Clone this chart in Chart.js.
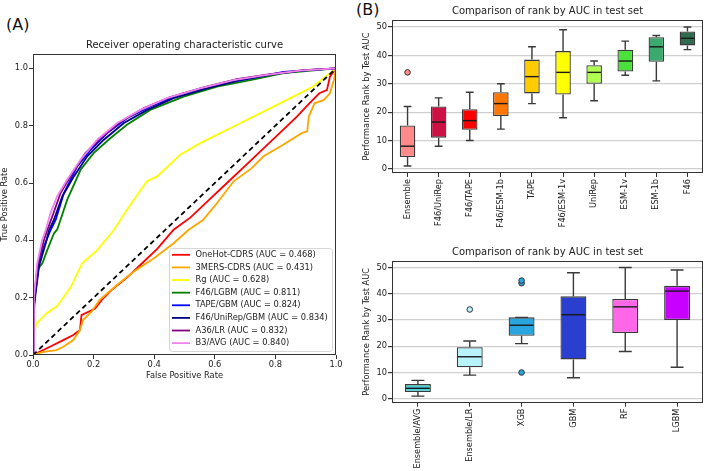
<!DOCTYPE html>
<html>
<head>
<meta charset="utf-8">
<script src="https://cdn.jsdelivr.net/npm/chart.js@4.4.1/dist/chart.umd.min.js"></script>
<style>
  body { margin: 0; background: #fff; width: 708px; height: 471px; position: relative; overflow: hidden; font-family: "DejaVu Sans", sans-serif; }
  canvas { position: absolute; }
  .tag { position: absolute; font-size: 16px; color: #111; line-height: 19px; }
</style>
</head>
<body>
<div class="tag" style="left:6px;top:15px">(A)</div>
<div class="tag" style="left:356px;top:0px">(B)</div>
<canvas id="rocChart" width="350" height="390" style="left:0;top:0"></canvas>
<canvas id="rankChart" width="354" height="240" style="left:354px;top:0"></canvas>
<canvas id="algoChart" width="354" height="231" style="left:354px;top:240px"></canvas>
<script>
/* ==============================
   DATA
============================== */
// ROC curves (panel A)
const rocNames = ['OneHot-CDRS', '3MERS-CDRS', 'Rg', 'F46/LGBM', 'TAPE/GBM', 'F46/UniRep/GBM', 'A36/LR', 'B3/AVG'];
const rocAuc = [0.468, 0.431, 0.628, 0.811, 0.824, 0.834, 0.832, 0.840];
const rocColors = ['#ff0000', '#ffa500', '#ffff00', '#008000', '#0000ff', '#000080', '#800080', '#ee82ee'];

const fprOneHot = [0, 0.056, 0.1, 0.133, 0.155, 0.16, 0.183, 0.205, 0.227, 0.26, 0.31, 0.36, 0.41, 0.464, 0.52, 0.58, 0.64, 0.7, 0.76, 0.82, 0.87, 0.912, 0.945, 0.97, 0.98, 1];
const tprOneHot = [0, 0.029, 0.052, 0.07, 0.087, 0.139, 0.151, 0.162, 0.192, 0.227, 0.27, 0.32, 0.37, 0.437, 0.48, 0.54, 0.6, 0.66, 0.72, 0.78, 0.831, 0.878, 0.913, 0.924, 0.971, 1];
const fpr3mers = [0, 0.034, 0.078, 0.1, 0.133, 0.155, 0.165, 0.193, 0.22, 0.278, 0.333, 0.398, 0.464, 0.514, 0.56, 0.6, 0.662, 0.72, 0.761, 0.82, 0.887, 0.905, 0.91, 0.929, 0.96, 0.98, 0.993, 1];
const tpr3mers = [0, 0.011, 0.017, 0.029, 0.052, 0.087, 0.122, 0.151, 0.192, 0.245, 0.291, 0.337, 0.39, 0.437, 0.47, 0.52, 0.606, 0.65, 0.693, 0.73, 0.774, 0.78, 0.831, 0.878, 0.89, 0.913, 0.958, 1];
const fprRg = [0, 0, 0.012, 0.045, 0.078, 0.094, 0.124, 0.162, 0.212, 0.267, 0.31, 0.376, 0.41, 0.486, 0.552, 0.662, 0.772, 0.849, 0.923, 0.979, 1];
const tprRg = [0, 0.06, 0.11, 0.146, 0.169, 0.192, 0.235, 0.32, 0.366, 0.436, 0.507, 0.606, 0.623, 0.699, 0.739, 0.797, 0.855, 0.896, 0.936, 0.982, 1];
const fprLgbm = [0, 0.003, 0.008, 0.014, 0.031, 0.047, 0.069, 0.08, 0.113, 0.157, 0.2, 0.256, 0.31, 0.387, 0.497, 0.607, 0.717, 0.827, 0.936, 1];
const tprLgbm = [0, 0.146, 0.23, 0.297, 0.32, 0.366, 0.424, 0.438, 0.542, 0.646, 0.704, 0.757, 0.803, 0.855, 0.901, 0.936, 0.959, 0.983, 0.994, 1];
const fprTape = [0, 0.003, 0.02, 0.036, 0.058, 0.075, 0.102, 0.146, 0.19, 0.245, 0.31, 0.387, 0.497, 0.607, 0.717, 0.827, 1];
const tprTape = [0, 0.18, 0.32, 0.378, 0.436, 0.472, 0.565, 0.658, 0.716, 0.774, 0.826, 0.867, 0.913, 0.942, 0.965, 0.988, 1];
const fprUniRep = [0, 0.003, 0.02, 0.042, 0.053, 0.069, 0.097, 0.135, 0.179, 0.234, 0.3, 0.377, 0.464, 0.574, 0.684, 0.794, 0.903, 1];
const tprUniRep = [0, 0.17, 0.31, 0.39, 0.436, 0.472, 0.554, 0.623, 0.693, 0.751, 0.809, 0.855, 0.896, 0.93, 0.959, 0.98, 0.994, 1];
const fprA36 = [0, 0.003, 0.016, 0.036, 0.047, 0.064, 0.091, 0.13, 0.173, 0.223, 0.289, 0.366, 0.453, 0.563, 0.673, 0.783, 0.892, 1];
const tprA36 = [0, 0.19, 0.32, 0.4, 0.436, 0.484, 0.565, 0.635, 0.704, 0.757, 0.814, 0.861, 0.9, 0.934, 0.962, 0.98, 0.994, 1];
const fprB3 = [0, 0.003, 0.014, 0.03, 0.042, 0.058, 0.08, 0.113, 0.157, 0.212, 0.278, 0.355, 0.442, 0.552, 0.662, 0.772, 0.881, 1];
const tprB3 = [0, 0.2, 0.32, 0.4, 0.436, 0.496, 0.554, 0.612, 0.681, 0.751, 0.809, 0.855, 0.896, 0.93, 0.959, 0.977, 0.992, 1];
const rocFpr = [fprOneHot, fpr3mers, fprRg, fprLgbm, fprTape, fprUniRep, fprA36, fprB3];
const rocTpr = [tprOneHot, tpr3mers, tprRg, tprLgbm, tprTape, tprUniRep, tprA36, tprB3];
const rateTicks = [0, 0.2, 0.4, 0.6, 0.8, 1.0];

// rank by embedding (panel B, top)
const rankLabels = ['Ensemble', 'F46/UniRep', 'F46/TAPE', 'F46/ESM-1b', 'TAPE', 'F46/ESM-1v', 'UniRep', 'ESM-1v', 'ESM-1b', 'F46'];
const rankMin = [1, 8, 10, 14, 23, 18, 24, 33, 31, 42];
const rankQ1 = [4.2, 11, 13.8, 18.6, 26.6, 26.2, 30, 34.3, 37.7, 43.5];
const rankMed = [8, 16.5, 17, 23, 32.5, 34, 34, 38, 43, 46];
const rankQ3 = [15.3, 22, 21, 27, 38.5, 41.5, 36.5, 42, 46.4, 48.4];
const rankMax = [22, 25, 27, 30, 43, 49, 38, 45, 47, 50];
const rankOutliers = [[34], [], [], [], [], [], [], [], [], []];
const rankColors = ['#ff8a8a', '#cc1144', '#ff0000', '#ff7700', '#ffcc00', '#ffff00', '#b0ff50', '#4ce03c', '#3caa6e', '#2e6b4f'];

// rank by algorithm (panel B, bottom)
const algoLabels = ['Ensemble/AVG', 'Ensemble/LR', 'XGB', 'GBM', 'RF', 'LGBM'];
const algoMin = [1, 9, 21, 8, 18, 12];
const algoQ1 = [2.6, 12, 24, 15, 25, 30];
const algoMed = [4, 16, 28, 32, 35, 41];
const algoQ3 = [5.6, 19.6, 31, 39, 38, 43];
const algoMax = [7, 22, 31, 48, 50, 49];
const algoOutliers = [[], [34], [10, 44, 45], [], [], []];
const algoColors = ['#48cfd8', '#b8f2fb', '#29a6e0', '#2a3ed0', '#ff66e8', '#c800ff'];
const rankTicks = [0, 10, 20, 30, 40, 50];

/* ==============================
   SHARED BITS
============================== */
Chart.defaults.font.family = "'DejaVu Sans', sans-serif";
Chart.defaults.color = '#222';

const framePlugin = {
    id: 'frame',
    afterDraw(chart) {
        const { ctx, chartArea: a } = chart;
        const l = Math.round(a.left) + 0.5, t = Math.round(a.top) + 0.5;
        const r = Math.round(a.right) - 0.5, b = Math.round(a.bottom) - 0.5;
        ctx.save();
        ctx.strokeStyle = '#333';
        ctx.lineWidth = 1;
        ctx.strokeRect(l, t, r - l, b - t);
        ctx.restore();
    }
};

/* ==============================
   ROC CURVE
============================== */
const rocLegend = {
    id: 'rocLegend',
    afterDatasetsDraw(chart) {
        const { ctx, chartArea: a } = chart;
        const w = 163, h = 103;
        const x = a.right - 4 - w, y = a.bottom - 4 - h;
        ctx.save();
        ctx.beginPath();
        ctx.roundRect(x + 0.5, y + 0.5, w, h, 3);
        ctx.fillStyle = 'rgba(255,255,255,0.85)';
        ctx.fill();
        ctx.strokeStyle = '#d6d6d6';
        ctx.lineWidth = 1;
        ctx.stroke();
        ctx.font = "8.3px 'DejaVu Sans'";
        ctx.textBaseline = 'middle';
        rocNames.forEach((name, i) => {
            const cy = y + 6.8 + i * 12.62;
            ctx.beginPath();
            ctx.moveTo(x + 3, cy);
            ctx.lineTo(x + 21, cy);
            ctx.strokeStyle = rocColors[i];
            ctx.lineWidth = 1.8;
            ctx.stroke();
            ctx.fillStyle = '#222';
            ctx.fillText(`${name} (AUC = ${rocAuc[i].toFixed(3)})`, x + 26.5, cy);
        });
        ctx.restore();
    }
};

function renderRocChart() {
    const datasets = rocNames.map((name, i) => ({
        label: name,
        data: rocFpr[i].map((f, j) => ({ x: f, y: rocTpr[i][j] })),
        showLine: true,
        borderColor: rocColors[i],
        borderWidth: 1.8,
        pointRadius: 0,
        order: rocNames.length - i
    }));
    datasets.push({
        label: 'chance',
        data: [{ x: 0, y: 0 }, { x: 1, y: 1 }],
        showLine: true,
        borderColor: '#000',
        borderWidth: 1.8,
        borderDash: [5, 3.5],
        pointRadius: 0,
        order: 0
    });

    const axisCommon = {
        type: 'linear',
        afterBuildTicks: s => { s.ticks = rateTicks.map(v => ({ value: v })); },
        ticks: { callback: v => v.toFixed(1), padding: 1, font: { size: 8.3 }, color: '#222' },
        grid: { drawOnChartArea: false, tickLength: 4, tickColor: '#333' },
        border: { display: false }
    };

    new Chart(document.getElementById('rocChart'), {
        type: 'scatter',
        data: { datasets },
        options: {
            responsive: false,
            animation: false,
            layout: { padding: { top: 39, right: 14, bottom: 9, left: 0 } },
            plugins: {
                legend: { display: false },
                tooltip: { enabled: false },
                title: {
                    display: true,
                    fullSize: false,
                    text: 'Receiver operating characteristic curve',
                    font: { size: 10, weight: 'normal' },
                    color: '#222',
                    padding: { top: 0, bottom: 3 }
                }
            },
            scales: {
                x: {
                    ...axisCommon, min: 0, max: 1,
                    title: { display: true, text: 'False Positive Rate', font: { size: 8.3 }, padding: 0 },
                    afterFit: s => { s.height = 26; }
                },
                y: {
                    ...axisCommon, min: 0, max: 1.05,
                    title: { display: true, text: 'True Positive Rate', font: { size: 8.3 }, padding: 0 },
                    afterFit: s => { s.width = 33; }
                }
            }
        },
        plugins: [rocLegend, framePlugin]
    });
}

/* ==============================
   BOX PLOTS
============================== */
const boxPlugin = {
    id: 'boxStats',
    afterDatasetsDraw(chart, args, opts) {
        const { ctx } = chart;
        const xs = chart.scales.x, ys = chart.scales.y;
        const bars = chart.getDatasetMeta(0).data;
        ctx.save();
        ctx.lineWidth = 1.4;
        opts.med.forEach((m, i) => {
            const cx = xs.getPixelForValue(i);
            const half = bars[i].width / 2;
            const cap = half / 2;
            const pLo = ys.getPixelForValue(opts.lo[i]), pQ1 = ys.getPixelForValue(opts.q1[i]);
            const pQ3 = ys.getPixelForValue(opts.q3[i]), pHi = ys.getPixelForValue(opts.hi[i]);
            // whiskers + caps
            ctx.strokeStyle = '#3a3a3a';
            ctx.beginPath();
            ctx.moveTo(cx, pQ1); ctx.lineTo(cx, pLo);
            ctx.moveTo(cx - cap, pLo); ctx.lineTo(cx + cap, pLo);
            ctx.moveTo(cx, pQ3); ctx.lineTo(cx, pHi);
            ctx.moveTo(cx - cap, pHi); ctx.lineTo(cx + cap, pHi);
            ctx.stroke();
            // median
            const pm = ys.getPixelForValue(m);
            ctx.strokeStyle = '#1a1a1a';
            ctx.beginPath();
            ctx.moveTo(cx - half + 1, pm); ctx.lineTo(cx + half - 1, pm);
            ctx.stroke();
        });
        ctx.restore();
    }
};

function renderBoxChart(id, labels, lo, q1, med, q3, hi, outliers, colors, layoutTop, xHeight) {
    const outPts = [], outCols = [];
    outliers.forEach((vals, i) => vals.forEach(v => { outPts.push({ x: labels[i], y: v }); outCols.push(colors[i]); }));

    new Chart(document.getElementById(id), {
        type: 'bar',
        data: {
            labels: labels,
            datasets: [{
                type: 'bar',
                data: labels.map((_, i) => [q1[i], q3[i]]),
                backgroundColor: colors,
                borderColor: '#3a3a3a',
                borderWidth: 1.3,
                borderSkipped: false,
                barPercentage: 0.5,
                categoryPercentage: 1
            }, {
                type: 'scatter',
                data: outPts,
                pointBackgroundColor: outCols,
                pointBorderColor: '#333',
                pointBorderWidth: 1,
                pointRadius: 2.8
            }]
        },
        options: {
            responsive: false,
            animation: false,
            layout: { padding: { top: layoutTop, right: 1, bottom: 0, left: 0 } },
            plugins: {
                legend: { display: false },
                tooltip: { enabled: false },
                title: {
                    display: true,
                    fullSize: false,
                    text: 'Comparison of rank by AUC in test set',
                    font: { size: 10, weight: 'normal' },
                    color: '#222',
                    padding: { top: 0, bottom: 3 }
                },
                boxStats: { lo, q1, med, q3, hi }
            },
            scales: {
                x: {
                    type: 'category',
                    ticks: { minRotation: 90, maxRotation: 90, autoSkip: false, padding: 2, font: { size: 8.2 }, color: '#222' },
                    grid: { drawOnChartArea: false, offset: false, tickLength: 4, tickColor: '#333' },
                    border: { display: false },
                    afterFit: s => { s.height = xHeight; }
                },
                y: {
                    min: -1.45, max: 52.45,
                    afterBuildTicks: s => { s.ticks = rankTicks.map(v => ({ value: v })); },
                    ticks: { padding: 1, font: { size: 8.3 }, color: '#222' },
                    grid: { color: '#d0d0d0', lineWidth: 1.2, tickLength: 4, tickColor: '#333' },
                    border: { display: false },
                    title: { display: true, text: 'Performance Rank by Test AUC', font: { size: 8.3 }, padding: { top: 8, bottom: 0 } },
                    afterFit: s => { s.width = 38; }
                }
            }
        },
        plugins: [boxPlugin, framePlugin]
    });
}

document.addEventListener('DOMContentLoaded', () => {
    renderRocChart();
    renderBoxChart('rankChart', rankLabels, rankMin, rankQ1, rankMed, rankQ3, rankMax, rankOutliers, rankColors, 5, 67);
    renderBoxChart('algoChart', algoLabels, algoMin, algoQ1, algoMed, algoQ3, algoMax, algoOutliers, algoColors, 6, 68.4);
});
</script>
</body>
</html>
